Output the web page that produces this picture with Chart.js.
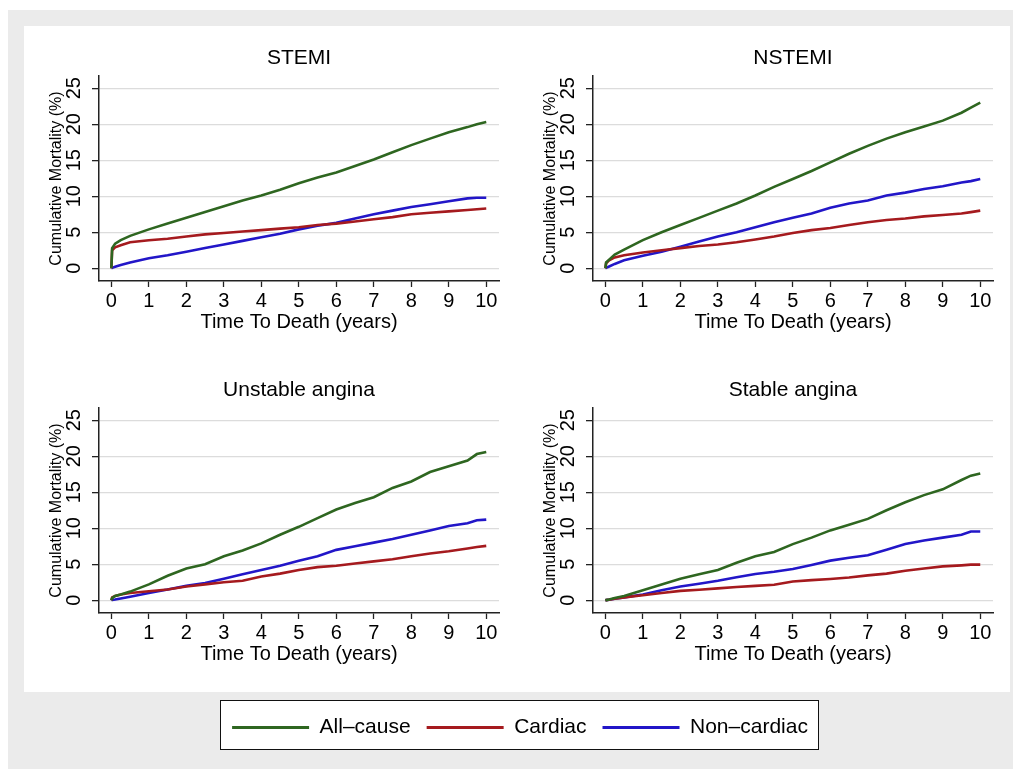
<!DOCTYPE html>
<html>
<head>
<meta charset="utf-8">
<script src="https://cdn.jsdelivr.net/npm/chart.js@4/dist/chart.umd.min.js"></script>
<style>
  html, body { margin: 0; padding: 0; background: #ffffff; }
  body { width: 1015px; height: 769px; position: relative; overflow: hidden; }
  #outer { position: absolute; left: 8px; top: 10px; width: 1005px; height: 759px; background: #ebebeb; }
  #inner { position: absolute; left: 24px; top: 26px; width: 986px; height: 666px; background: #ffffff; }
  .panel { position: absolute; width: 490px; height: 320px; }
  #legendBox { position: absolute; left: 220px; top: 700px; width: 597px; height: 48px; border: 1.5px solid #111; background: #fff; overflow: hidden; }
  #legendBox canvas { position: absolute; left: -51.5px; top: 0; }
</style>
</head>
<body>
<div id="outer"></div>
<div id="inner"></div>
<div class="panel" style="left:24px;top:26px"><canvas id="p0" width="490" height="320"></canvas></div>
<div class="panel" style="left:518px;top:26px"><canvas id="p1" width="490" height="320"></canvas></div>
<div class="panel" style="left:24px;top:358px"><canvas id="p2" width="490" height="320"></canvas></div>
<div class="panel" style="left:518px;top:358px"><canvas id="p3" width="490" height="320"></canvas></div>
<div id="legendBox"><canvas id="leg" width="700" height="120"></canvas></div>
<script>
// ---------------- DATA ----------------
const panelTitles = ['STEMI', 'NSTEMI', 'Unstable angina', 'Stable angina'];
const seriesLabels = ['All\u2013cause', 'Cardiac', 'Non\u2013cardiac'];
const xTicks = [0, 1, 2, 3, 4, 5, 6, 7, 8, 9, 10];
const yTicks = [0, 5, 10, 15, 20, 25];
const timeYears = [0, 0.02, 0.1, 0.25, 0.5, 1, 1.5, 2, 2.5, 3, 3.5, 4, 4.5, 5, 5.5, 6, 6.5, 7, 7.5, 8, 8.5, 9, 9.5, 9.75, 10];

const stemiAllCause   = [0, 2.8, 3.4, 3.9, 4.5, 5.4, 6.2, 7.0, 7.8, 8.6, 9.4, 10.1, 10.9, 11.8, 12.6, 13.3, 14.2, 15.1, 16.1, 17.1, 18.0, 18.9, 19.6, 20.0, 20.3];
const stemiCardiac    = [0, 2.5, 2.9, 3.2, 3.6, 3.9, 4.1, 4.4, 4.7, 4.9, 5.1, 5.3, 5.5, 5.7, 6.0, 6.2, 6.5, 6.8, 7.1, 7.5, 7.7, 7.9, 8.1, 8.2, 8.3];
const stemiNonCardiac = [0, 0.05, 0.2, 0.45, 0.8, 1.4, 1.8, 2.3, 2.8, 3.3, 3.8, 4.3, 4.8, 5.4, 5.9, 6.3, 6.9, 7.5, 8.0, 8.5, 8.9, 9.3, 9.7, 9.8, 9.8];

const nstemiAllCause   = [0, 0.8, 1.2, 1.9, 2.6, 3.9, 5.0, 6.0, 7.0, 8.0, 9.0, 10.1, 11.3, 12.4, 13.5, 14.7, 15.9, 17.0, 18.0, 18.9, 19.7, 20.5, 21.6, 22.3, 23.0];
const nstemiCardiac    = [0, 0.7, 1.1, 1.5, 1.8, 2.2, 2.5, 2.8, 3.1, 3.3, 3.6, 4.0, 4.4, 4.9, 5.3, 5.6, 6.0, 6.4, 6.7, 6.9, 7.2, 7.4, 7.6, 7.8, 8.0];
const nstemiNonCardiac = [0, 0.05, 0.25, 0.6, 1.1, 1.75, 2.3, 3.0, 3.7, 4.4, 5.0, 5.7, 6.4, 7.0, 7.6, 8.4, 9.0, 9.4, 10.1, 10.5, 11.0, 11.4, 11.9, 12.1, 12.4];

const unstableAllCause   = [0, 0.3, 0.6, 0.8, 1.2, 2.2, 3.4, 4.4, 5.0, 6.1, 6.9, 7.9, 9.1, 10.2, 11.4, 12.6, 13.5, 14.3, 15.6, 16.5, 17.8, 18.6, 19.4, 20.3, 20.6];
const unstableCardiac    = [0, 0.4, 0.6, 0.8, 1.0, 1.25, 1.5, 1.9, 2.2, 2.5, 2.7, 3.3, 3.7, 4.2, 4.6, 4.8, 5.1, 5.4, 5.7, 6.1, 6.5, 6.8, 7.2, 7.4, 7.55];
const unstableNonCardiac = [0, 0.05, 0.1, 0.25, 0.5, 1.0, 1.5, 2.0, 2.4, 3.0, 3.6, 4.2, 4.8, 5.5, 6.1, 7.0, 7.5, 8.0, 8.5, 9.1, 9.7, 10.3, 10.7, 11.1, 11.2];

const stableAllCause   = [0, 0.02, 0.1, 0.3, 0.6, 1.4, 2.2, 3.0, 3.6, 4.2, 5.2, 6.1, 6.7, 7.8, 8.7, 9.7, 10.5, 11.3, 12.5, 13.6, 14.6, 15.4, 16.7, 17.3, 17.6];
const stableCardiac    = [0, 0.02, 0.08, 0.2, 0.4, 0.7, 1.0, 1.3, 1.45, 1.65, 1.85, 2.0, 2.15, 2.6, 2.8, 2.95, 3.15, 3.45, 3.7, 4.1, 4.4, 4.7, 4.85, 4.95, 4.95];
const stableNonCardiac = [0, 0.02, 0.08, 0.2, 0.4, 0.8, 1.4, 1.9, 2.3, 2.7, 3.2, 3.65, 3.95, 4.35, 4.9, 5.5, 5.9, 6.25, 7.0, 7.8, 8.3, 8.7, 9.1, 9.55, 9.55];

const panelSeries = [
  [stemiAllCause, stemiCardiac, stemiNonCardiac],
  [nstemiAllCause, nstemiCardiac, nstemiNonCardiac],
  [unstableAllCause, unstableCardiac, unstableNonCardiac],
  [stableAllCause, stableCardiac, stableNonCardiac]
];

// ---------------- STYLE ----------------
const seriesColors = ['#2e6620', '#a51a1e', '#2216c8'];
const FONT = '"Liberation Sans", Arial, Helvetica, sans-serif';
const ink = '#000000';

function makePanel(canvasId, idx) {
  const datasets = panelSeries[idx].map((vals, s) => ({
    label: seriesLabels[s],
    data: timeYears.map((t, i) => ({ x: t, y: vals[i] })),
    borderColor: seriesColors[s],
    backgroundColor: seriesColors[s],
    borderWidth: 2.6,
    pointRadius: 0,
    tension: 0,
    fill: false
  }));
  new Chart(document.getElementById(canvasId), {
    type: 'line',
    data: { datasets },
    options: {
      responsive: false,
      animation: false,
      events: [],
      layout: { padding: { left: 0, right: 15, top: 0, bottom: 0 } },
      plugins: {
        legend: { display: false },
        tooltip: { enabled: false },
        title: {
          display: true,
          fullSize: false,
          text: panelTitles[idx],
          color: ink,
          font: { family: FONT, size: 21, weight: 'normal', lineHeight: 1.2 },
          padding: { top: 19.4, bottom: 5.4 }
        }
      },
      scales: {
        x: {
          type: 'linear',
          min: -0.33,
          max: 10.34,
          bounds: 'data',
          afterBuildTicks: (sc) => { sc.ticks = xTicks.map(v => ({ value: v })); },
          afterFit: (sc) => { sc.height = 65; },
          grid: { drawOnChartArea: false, drawTicks: true, tickLength: 6, tickColor: '#222', tickWidth: 1.3 },
          border: { display: true, color: '#222', width: 1.5 },
          ticks: { color: ink, font: { family: FONT, size: 20 }, padding: 2, maxRotation: 0, autoSkip: false },
          title: {
            display: true,
            text: 'Time To Death (years)',
            color: ink,
            font: { family: FONT, size: 20, lineHeight: 1.2 },
            padding: { top: 0, bottom: 12 }
          }
        },
        y: {
          type: 'linear',
          min: -1.77,
          max: 26.7,
          bounds: 'data',
          afterBuildTicks: (sc) => { sc.ticks = yTicks.map(v => ({ value: v })); },
          afterFit: (sc) => { sc.width = 75; },
          grid: { drawOnChartArea: true, color: '#dcdcdc', lineWidth: 1.3, drawTicks: true, tickLength: 7, tickColor: '#222', tickWidth: 1.3 },
          border: { display: true, color: '#222', width: 1.5 },
          ticks: { color: ink, font: { family: FONT, size: 20 }, padding: 6.5, minRotation: 90, maxRotation: 90, crossAlign: 'center', autoSkip: false },
          title: {
            display: true,
            text: 'Cumulative Mortality (%)',
            color: ink,
            font: { family: FONT, size: 16, lineHeight: 1.2 },
            padding: { top: 23, bottom: 0 }
          }
        }
      }
    }
  });
}

makePanel('p0', 0);
makePanel('p1', 1);
makePanel('p2', 2);
makePanel('p3', 3);

// Legend drawn by Chart.js legend plugin on a legend-only chart
new Chart(document.getElementById('leg'), {
  type: 'line',
  data: {
    datasets: seriesLabels.map((lab, s) => ({
      label: lab, data: [], borderColor: seriesColors[s], backgroundColor: seriesColors[s], borderWidth: 0
    }))
  },
  options: {
    responsive: false,
    animation: false,
    events: [],
    layout: { padding: 0 },
    scales: { x: { display: false }, y: { display: false } },
    plugins: {
      tooltip: { enabled: false },
      legend: {
        display: true,
        position: 'top',
        align: 'center',
        labels: {
          color: ink,
          font: { family: FONT, size: 21, lineHeight: 1.0 },
          boxWidth: 77,
          boxHeight: 3,
          padding: 16,
          generateLabels: (chart) => chart.data.datasets.map((d, i) => ({
            text: d.label, fillStyle: d.borderColor, strokeStyle: d.borderColor,
            lineWidth: 0, hidden: false, datasetIndex: i, fontColor: ink
          }))
        }
      }
    }
  }
});
</script>
</body>
</html>
